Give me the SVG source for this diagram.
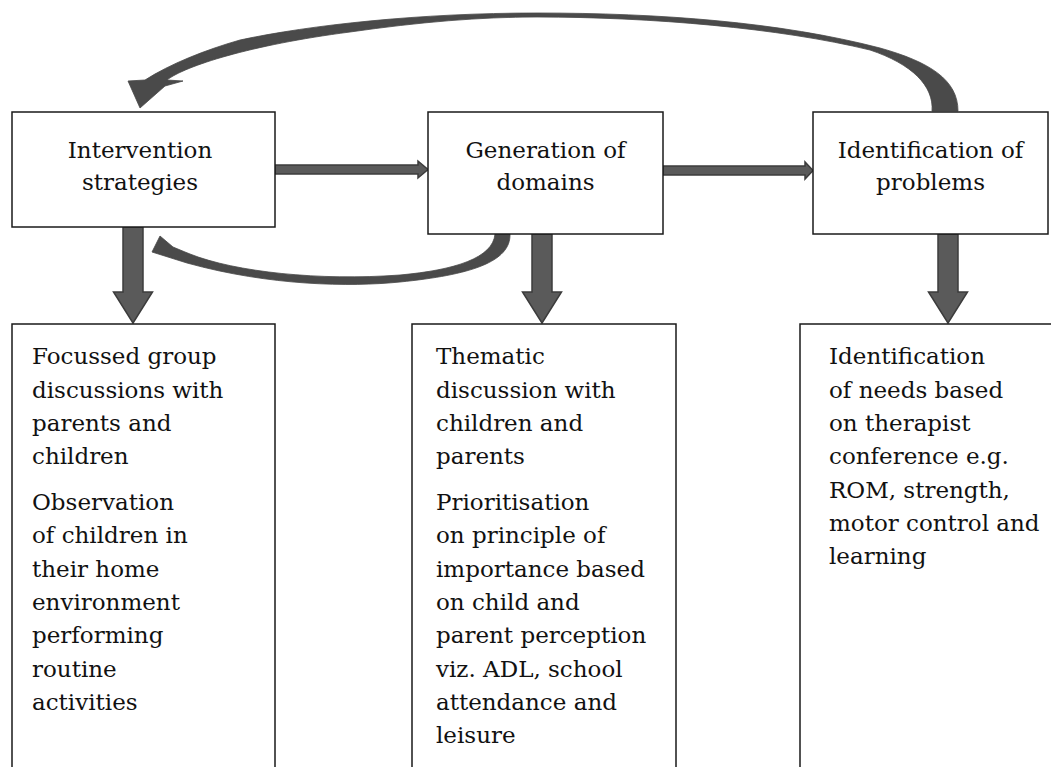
<svg xmlns="http://www.w3.org/2000/svg" width="1051" height="767" viewBox="0 0 1051 767">
<style>
.box{fill:#fff;stroke:#1a1a1a;stroke-width:1.5}
.t{font-family:"DejaVu Serif","Liberation Serif",serif;font-size:23px;fill:#111}
.tc{text-anchor:middle}
.arr{fill:#5a5a5a;stroke:#3c3c3c;stroke-width:1.5;stroke-linejoin:miter}
.curve{fill:#4a4a4a;stroke:#474747;stroke-width:0.8;stroke-linejoin:round}
</style>
<rect width="1051" height="767" fill="#fff"/>
<g id="connectors">
<path class="curve" d="M958,111 C958,80 930,62 880,48 C780,22 660,13 537,13 C420,13 310,25 240,40 C205,50 170,64 145,80 L128,81 L140,108 L165,86 L183,81 L167,80 C185,66 250,45 350,32 C420,22 480,17 537,17 C650,17 780,28 870,50 C912,64 934,86 932,111 Z"/>
<path class="curve" d="M510,234 C511,262 470,275 400,282 C350,287 270,286 187,263 L152,252 L160,236 L173,247 L185,252 L190,254 C235,272 320,281 400,275 C455,270 493,258 495,234 Z"/>
<path class="arr" d="M275,165 L418,165 L418,161 L428,169.5 L418,178 L418,174 L275,174 Z"/>
<path class="arr" d="M663,166 L805,166 L805,162 L813,170.5 L805,179 L805,175 L663,175 Z"/>
<path class="arr" d="M123,227 L143,227 L143,292 L152.5,292 L133,323 L113.5,292 L123,292 Z"/>
<path class="arr" d="M532,234 L552,234 L552,292 L561.5,292 L542,323 L522.5,292 L532,292 Z"/>
<path class="arr" d="M938,234 L958,234 L958,292 L967.5,292 L948,323 L928.5,292 L938,292 Z"/>
</g>
<g id="n-intervention">
<rect class="box" x="12" y="112" width="263" height="115"/>
<text class="t tc" x="140" y="158">Intervention</text>
<text class="t tc" x="140" y="190">strategies</text>
</g>
<g id="n-generation">
<rect class="box" x="428" y="112" width="235" height="122"/>
<text class="t tc" x="545.5" y="158">Generation of</text>
<text class="t tc" x="545.5" y="190">domains</text>
</g>
<g id="n-identification">
<rect class="box" x="813" y="112" width="235" height="122"/>
<text class="t tc" x="930.5" y="158">Identification of</text>
<text class="t tc" x="930.5" y="190">problems</text>
</g>
<g id="n-focussed">
<path class="box" d="M12,768 L12,324 L275,324 L275,768"/>
<text class="t" x="32" y="364">Focussed group</text>
<text class="t" x="32" y="397.5">discussions with</text>
<text class="t" x="32" y="431">parents and</text>
<text class="t" x="32" y="464">children</text>
<text class="t" x="32" y="510">Observation</text>
<text class="t" x="32" y="543">of children in</text>
<text class="t" x="32" y="576.5">their home</text>
<text class="t" x="32" y="610">environment</text>
<text class="t" x="32" y="643">performing</text>
<text class="t" x="32" y="676.5">routine</text>
<text class="t" x="32" y="710">activities</text>
</g>
<g id="n-thematic">
<path class="box" d="M412,768 L412,324 L676,324 L676,768"/>
<text class="t" x="436" y="364">Thematic</text>
<text class="t" x="436" y="397.5">discussion with</text>
<text class="t" x="436" y="431">children and</text>
<text class="t" x="436" y="464">parents</text>
<text class="t" x="436" y="510">Prioritisation</text>
<text class="t" x="436" y="543">on principle of</text>
<text class="t" x="436" y="576.5">importance based</text>
<text class="t" x="436" y="610">on child and</text>
<text class="t" x="436" y="643">parent perception</text>
<text class="t" x="436" y="676.5">viz. ADL, school</text>
<text class="t" x="436" y="710">attendance and</text>
<text class="t" x="436" y="743">leisure</text>
</g>
<g id="n-needs">
<path class="box" d="M800,768 L800,324 L1052,324"/>
<text class="t" x="829" y="364">Identification</text>
<text class="t" x="829" y="397.5">of needs based</text>
<text class="t" x="829" y="431">on therapist</text>
<text class="t" x="829" y="464">conference e.g.</text>
<text class="t" x="829" y="497.5">ROM, strength,</text>
<text class="t" x="829" y="531">motor control and</text>
<text class="t" x="829" y="564">learning</text>
</g>
</svg>
